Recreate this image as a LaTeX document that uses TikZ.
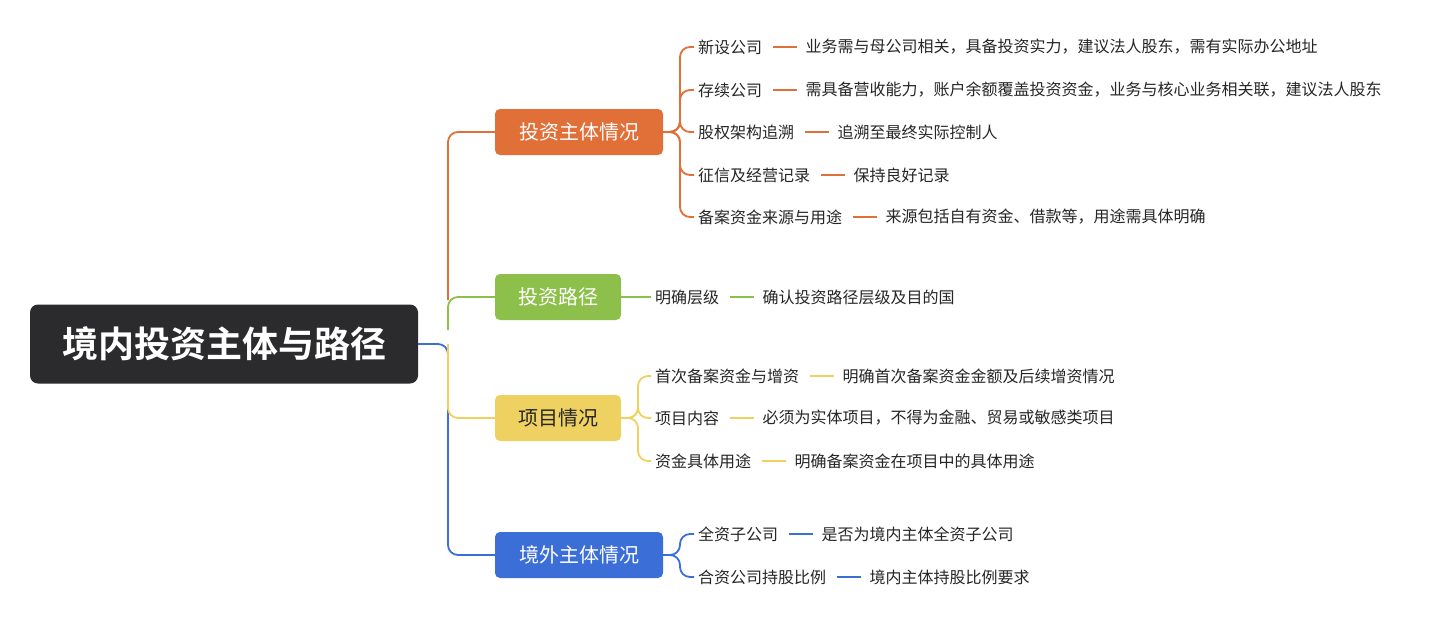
\documentclass[tikz,border=0pt]{standalone}
\usepackage{fontspec}
\setmainfont{Noto Sans CJK SC}[BoldFont={Noto Sans CJK SC Bold}]
\begin{document}
\begin{tikzpicture}[x=1pt,y=-1pt,
  br/.style={rounded corners=5pt,minimum height=46pt,text=white,font=\fontsize{20}{24}\selectfont,inner sep=0pt},
  leaf/.style={anchor=west,font=\fontsize{16}{19}\selectfont,inner sep=0pt,text=black!85},
  ln/.style={line width=1.8pt,rounded corners=10pt}]
\definecolor{cO}{HTML}{E07038}
\definecolor{cG}{HTML}{8DC04A}
\definecolor{cY}{HTML}{EFD162}
\definecolor{cB}{HTML}{3C6ED8}
\definecolor{cR}{HTML}{2B2B2D}
\useasboundingbox[fill=white] (0,0) rectangle (1440,624);
\node[fill=cR,rounded corners=8pt,minimum width=388pt,minimum height=79pt,text=white,font=\bfseries\fontsize{36}{40}\selectfont] (root) at (224,344) {境内投资主体与路径};
\node[br,fill=cO,minimum width=168pt] (b1) at (579,132) {投资主体情况};
\node[br,fill=cG,minimum width=126pt] (b2) at (558,297) {投资路径};
\node[br,fill=cY,minimum width=126pt,text=black!85] (b3) at (558,418) {项目情况};
\node[br,fill=cB,minimum width=168pt] (b4) at (579,555) {境外主体情况};
\coordinate (s) at (448,344);
\draw[ln,cB] (root.east) -- (s) |- (b4.west);
\draw[ln,cY] (s) |- (b3.west);
\draw[ln,cO] (448,300) |- (b1.west);
\draw[ln,cG] (448,330) |- (b2.west);
% orange children
\foreach \i/\y/\a/\d in {1/47/新设公司/业务需与母公司相关，具备投资实力，建议法人股东，需有实际办公地址,
  2/90/存续公司/需具备营收能力，账户余额覆盖投资资金，业务与核心业务相关联，建议法人股东,
  3/132/股权架构追溯/追溯至最终实际控制人,
  4/175/征信及经营记录/保持良好记录,
  5/217/备案资金来源与用途/来源包括自有资金、借款等，用途需具体明确}{
  \node[leaf] (o\i) at (698,\y) {\a};
  \node[leaf] (od\i) at ([xshift=43pt]o\i.east) {\d};
  \draw[ln,cO] ([xshift=11pt]o\i.east) -- ([xshift=-8pt]od\i.west);
  \draw[ln,cO] (b1.east) -- (680,132) |- ([xshift=-4pt]o\i.west);
}
% green
\node[leaf] (g1) at (655,297) {明确层级};
\node[leaf] (gd1) at ([xshift=43pt]g1.east) {确认投资路径层级及目的国};
\draw[ln,cG] (b2.east) -- ([xshift=-4pt]g1.west);
\draw[ln,cG] ([xshift=11pt]g1.east) -- ([xshift=-8pt]gd1.west);
% yellow
\foreach \i/\y/\a/\d in {1/376/首次备案资金与增资/明确首次备案资金金额及后续增资情况,
  2/418/项目内容/必须为实体项目，不得为金融、贸易或敏感类项目,
  3/461/资金具体用途/明确备案资金在项目中的具体用途}{
  \node[leaf] (y\i) at (655,\y) {\a};
  \node[leaf] (yd\i) at ([xshift=43pt]y\i.east) {\d};
  \draw[ln,cY] ([xshift=11pt]y\i.east) -- ([xshift=-8pt]yd\i.west);
  \draw[ln,cY] (b3.east) -- (638,418) |- ([xshift=-4pt]y\i.west);
}
% blue
\foreach \i/\y/\a/\d in {1/534/全资子公司/是否为境内主体全资子公司,
  2/577/合资公司持股比例/境内主体持股比例要求}{
  \node[leaf] (u\i) at (698,\y) {\a};
  \node[leaf] (ud\i) at ([xshift=43pt]u\i.east) {\d};
  \draw[ln,cB] ([xshift=11pt]u\i.east) -- ([xshift=-8pt]ud\i.west);
  \draw[ln,cB] (b4.east) -- (680,555) |- ([xshift=-4pt]u\i.west);
}
\end{tikzpicture}
\end{document}
